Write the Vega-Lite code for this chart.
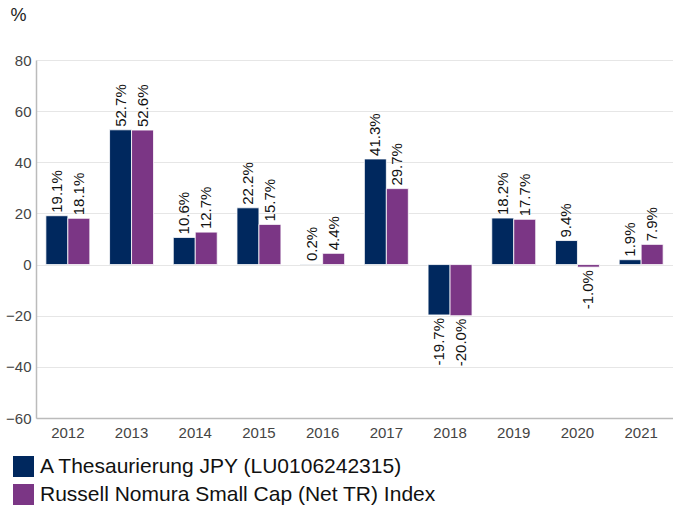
{
  "$schema": "https://vega.github.io/schema/vega-lite/v6.json",
  "width": 637,
  "height": 358,
  "autosize": {"type": "none"},
  "padding": {"left": 36, "top": 60, "right": 0, "bottom": 88},
  "background": "white",
  "config": {
    "font": "Liberation Sans",
    "view": {"stroke": null}
  },
  "data": {
    "values": [
      {"year": "2012", "series": "A Thesaurierung JPY (LU0106242315)", "value": 19.1, "label": "19.1%"},
      {"year": "2012", "series": "Russell Nomura Small Cap (Net TR) Index", "value": 18.1, "label": "18.1%"},
      {"year": "2013", "series": "A Thesaurierung JPY (LU0106242315)", "value": 52.7, "label": "52.7%"},
      {"year": "2013", "series": "Russell Nomura Small Cap (Net TR) Index", "value": 52.6, "label": "52.6%"},
      {"year": "2014", "series": "A Thesaurierung JPY (LU0106242315)", "value": 10.6, "label": "10.6%"},
      {"year": "2014", "series": "Russell Nomura Small Cap (Net TR) Index", "value": 12.7, "label": "12.7%"},
      {"year": "2015", "series": "A Thesaurierung JPY (LU0106242315)", "value": 22.2, "label": "22.2%"},
      {"year": "2015", "series": "Russell Nomura Small Cap (Net TR) Index", "value": 15.7, "label": "15.7%"},
      {"year": "2016", "series": "A Thesaurierung JPY (LU0106242315)", "value": 0.2, "label": "0.2%"},
      {"year": "2016", "series": "Russell Nomura Small Cap (Net TR) Index", "value": 4.4, "label": "4.4%"},
      {"year": "2017", "series": "A Thesaurierung JPY (LU0106242315)", "value": 41.3, "label": "41.3%"},
      {"year": "2017", "series": "Russell Nomura Small Cap (Net TR) Index", "value": 29.7, "label": "29.7%"},
      {"year": "2018", "series": "A Thesaurierung JPY (LU0106242315)", "value": -19.7, "label": "-19.7%"},
      {"year": "2018", "series": "Russell Nomura Small Cap (Net TR) Index", "value": -20.0, "label": "-20.0%"},
      {"year": "2019", "series": "A Thesaurierung JPY (LU0106242315)", "value": 18.2, "label": "18.2%"},
      {"year": "2019", "series": "Russell Nomura Small Cap (Net TR) Index", "value": 17.7, "label": "17.7%"},
      {"year": "2020", "series": "A Thesaurierung JPY (LU0106242315)", "value": 9.4, "label": "9.4%"},
      {"year": "2020", "series": "Russell Nomura Small Cap (Net TR) Index", "value": -1.0, "label": "-1.0%"},
      {"year": "2021", "series": "A Thesaurierung JPY (LU0106242315)", "value": 1.9, "label": "1.9%"},
      {"year": "2021", "series": "Russell Nomura Small Cap (Net TR) Index", "value": 7.9, "label": "7.9%"}
    ]
  },
  "encoding": {
    "x": {
      "field": "year", "type": "nominal", "title": null,
      "scale": {"paddingInner": 0.31, "paddingOuter": 0.155},
      "axis": {"labelAngle": 0, "labelFontSize": 15, "labelColor": "#444444", "ticks": false, "labelPadding": 7, "domainColor": "#bbbbbb", "domainWidth": 1.5}
    },
    "xOffset": {"field": "series", "type": "nominal", "sort": null},
    "y": {
      "field": "value", "type": "quantitative",
      "scale": {"domain": [-60, 80], "nice": false},
      "axis": {
        "title": "%", "titleAngle": 0, "titleX": -26, "titleY": -40, "titleAlign": "left", "titleBaseline": "alphabetic",
        "titleFontSize": 18, "titleFontWeight": "normal", "titleColor": "#222222",
        "values": [-60, -40, -20, 0, 20, 40, 60, 80],
        "labelFontSize": 15, "labelColor": "#444444", "ticks": false, "labelPadding": 5,
        "gridColor": "#e6e6e6", "domainColor": "#bbbbbb", "domainWidth": 1.5
      }
    }
  },
  "layer": [
    {
      "mark": {"type": "bar", "stroke": "white", "strokeWidth": 0.8},
      "encoding": {
        "color": {
          "field": "series", "type": "nominal", "sort": null,
          "scale": {"range": ["#00285e", "#7b3685"]},
          "legend": {
            "title": null, "orient": "none", "legendX": -23, "legendY": 396, "direction": "vertical",
            "symbolType": "square", "symbolSize": 441, "symbolStrokeWidth": 0, "symbolOpacity": 1,
            "labelFontSize": 21, "labelColor": "#111111", "rowPadding": 6, "labelOffset": 6, "labelLimit": 600
          }
        }
      }
    },
    {
      "transform": [{"filter": "datum.value >= 0"}],
      "mark": {"type": "text", "angle": 270, "align": "left", "baseline": "middle", "dx": 3, "fontSize": 15, "color": "#111111"},
      "encoding": {"text": {"field": "label"}}
    },
    {
      "transform": [{"filter": "datum.value < 0"}],
      "mark": {"type": "text", "angle": 270, "align": "right", "baseline": "middle", "dx": -3, "fontSize": 15, "color": "#111111"},
      "encoding": {"text": {"field": "label"}}
    }
  ]
}
